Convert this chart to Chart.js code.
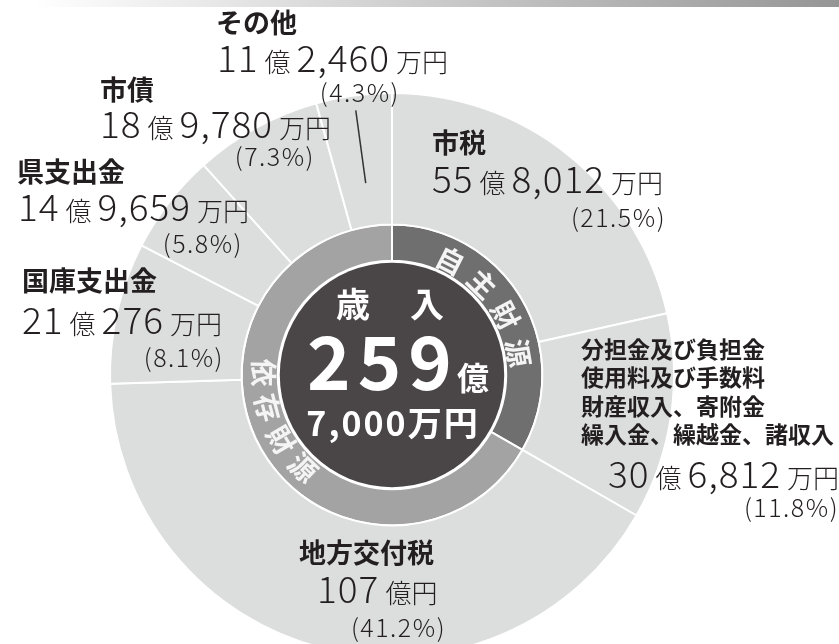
<!DOCTYPE html>
<html>
<head>
<meta charset="utf-8">
<script src="https://cdn.jsdelivr.net/npm/chart.js@4.4.1/dist/chart.umd.min.js"></script>
<style>
  html, body { margin: 0; padding: 0; background: #fff; overflow: hidden; }
  #wrap { position: absolute; left: 0; top: 0; width: 839px; height: 700px; }
  #bar { position: absolute; left: 0; top: 0; width: 839px; height: 7px;
         background: linear-gradient(to right, #fff 4%, #cfcfcf 48%, #959595 100%); }
</style>
</head>
<body>
<div id="wrap"><canvas id="pie"></canvas></div>
<div id="bar"></div>
<script>
// 歳入 (単位: 万円)
const categories = ['市税', '分担金及び負担金', '地方交付税', '国庫支出金', '県支出金', '市債', 'その他'];
const subNames = [null, ['分担金及び負担金', '使用料及び手数料', '財産収入、寄附金', '繰入金、繰越金、諸収入'], null, null, null, null, null];
const amounts = [558012, 306812, 1070000, 210276, 149659, 189780, 112460];
const groupOf = [0, 0, 1, 1, 1, 1, 1];
const groups = ['自主財源', '依存財源'];
const centerTitle = ['歳', '入'];
const centerMain = '259';
const centerSub = '7,000万円';

const total = amounts.reduce((a, b) => a + b, 0);
const groupAmounts = groups.map((g, i) => amounts.filter((v, j) => groupOf[j] === i).reduce((a, b) => a + b, 0));

// label layout: name (x, center y), value (x, baseline), percent (right x, center y)
const labelPos = [
  { nx: 432, ny: 143, vx: 432, vy: 193, px: 666, py: 217 },
  { nx: 581, ny: 349, lh: 28.5, vx: 608, vy: 488, px: 839, py: 507 },
  { nx: 299, ny: 553, vx: 317, vy: 603, px: 446, py: 627 },
  { nx: 22, ny: 281, vx: 22, vy: 334, px: 224, py: 357 },
  { nx: 17, ny: 172, vx: 18, vy: 221, px: 243, py: 243 },
  { nx: 100, ny: 90, vx: 100, vy: 138, px: 315, py: 156 },
  { nx: 216, ny: 23, vx: 217, vy: 72, px: 400, py: 92 }
];
const groupText = [
  { start: 27, step: 17.7, up: 1 },
  { start: 271, step: -15.7, up: -1 }
];

const JP = '"Noto Sans CJK JP", "Noto Sans", sans-serif';
const ink = '#231f20';

function valueParts(v) {
  const oku = Math.floor(v / 10000), man = v % 10000;
  if (!man) return [[String(oku), 1], ['億円', 0]];
  return [[String(oku), 1], ['億', 0], [man.toLocaleString('en-US'), 1], ['万円', 0]];
}

const labelPlugin = {
  id: 'labels',
  afterDatasetsDraw(chart) {
    const c = chart.ctx;
    const inner = chart.getDatasetMeta(1).data[0];
    const cx = inner.x, cy = inner.y;
    c.save();

    // dark center
    c.beginPath();
    c.arc(cx, cy, inner.innerRadius - 2, 0, Math.PI * 2);
    c.fillStyle = '#4a4546';
    c.fill();

    // curved group text
    const tr = (inner.innerRadius + inner.outerRadius) / 2 - 4;
    c.fillStyle = '#f4f4f4';
    c.font = '700 28px ' + JP;
    c.textAlign = 'center';
    c.textBaseline = 'middle';
    groups.forEach((g, i) => {
      const gt = groupText[i];
      [...g].forEach((ch, k) => {
        const a = (gt.start + gt.step * k) * Math.PI / 180;
        c.save();
        c.translate(cx + tr * Math.sin(a), cy - tr * Math.cos(a));
        c.rotate(gt.up > 0 ? a : a + Math.PI);
        c.fillText(ch, 0, 0);
        c.restore();
      });
    });

    // center text
    c.fillStyle = '#fff';
    c.font = '700 34px ' + JP;
    c.fillText(centerTitle[0], cx - 39, cy - 71);
    c.fillText(centerTitle[1], cx + 35, cy - 71);
    c.textBaseline = 'alphabetic';
    c.font = '700 74px ' + JP;
    c.letterSpacing = '7px';
    c.fillText(centerMain, cx - 9, cy + 15);
    c.letterSpacing = '0px';
    c.textAlign = 'left';
    c.font = '700 32px ' + JP;
    c.fillText('億', cx + 65, cy + 15);
    c.textAlign = 'center';
    c.font = '700 34px ' + JP;
    c.letterSpacing = '2px';
    c.fillText(centerSub, cx + 1, cy + 61);
    c.letterSpacing = '0px';

    // pointer for the small slice
    const outer = chart.getDatasetMeta(0);
    const last = outer.data[amounts.length - 1];
    const mid = (last.startAngle + last.endAngle) / 2;
    c.beginPath();
    c.moveTo(cx + last.outerRadius * 0.687 * Math.cos(mid), cy + last.outerRadius * 0.687 * Math.sin(mid));
    c.lineTo(cx + last.outerRadius * 0.947 * Math.cos(mid), cy + last.outerRadius * 0.947 * Math.sin(mid));
    c.strokeStyle = '#333';
    c.lineWidth = 1.5;
    c.stroke();

    // outside labels
    c.fillStyle = ink;
    categories.forEach((name, i) => {
      const p = labelPos[i];
      c.textAlign = 'left';
      c.textBaseline = 'middle';
      if (subNames[i]) {
        c.font = '700 23px ' + JP;
        subNames[i].forEach((s, k) => c.fillText(s, p.nx, p.ny + k * p.lh));
      } else {
        c.font = '700 27px ' + JP;
        c.fillText(name, p.nx, p.ny);
      }
      c.textBaseline = 'alphabetic';
      let x = p.vx;
      valueParts(amounts[i]).forEach(([t, big]) => {
        c.font = big ? '300 37px ' + JP : '300 26px ' + JP;
        c.letterSpacing = big ? '1px' : '0px';
        c.fillText(t, x, p.vy);
        x += c.measureText(t).width + 6;
      });
      c.font = '300 25px ' + JP;
      c.letterSpacing = '1.5px';
      c.textAlign = 'right';
      c.textBaseline = 'middle';
      c.fillText('(' + (amounts[i] / total * 100).toFixed(1) + '%)', p.px, p.py);
      c.letterSpacing = '0px';
    });
    c.restore();
  }
};

new Chart(document.getElementById('pie'), {
  type: 'doughnut',
  data: {
    labels: categories,
    datasets: [
      { data: amounts, backgroundColor: '#dcdddd', borderColor: '#fff', borderWidth: 2, weight: 131 },
      { data: groupAmounts, backgroundColor: ['#6f6f6f', '#a3a3a3'], borderColor: '#fff', borderWidth: 2, weight: 36 }
    ]
  },
  options: {
    responsive: true,
    maintainAspectRatio: false,
    animation: false,
    cutout: '40.5%',
    layout: { padding: { left: 109, right: 164, top: 92, bottom: 42 } },
    plugins: { legend: { display: false }, tooltip: { enabled: false } }
  },
  plugins: [labelPlugin]
});
</script>
</body>
</html>
